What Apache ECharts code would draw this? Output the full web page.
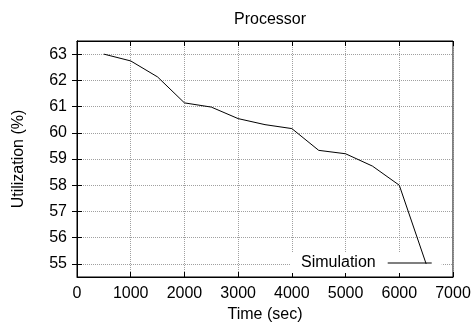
<!DOCTYPE html>
<html>
<head>
<meta charset="utf-8">
<script src="https://cdn.jsdelivr.net/npm/echarts@6/dist/echarts.min.js"></script>
<style>html,body{margin:0;padding:0;background:#fff;}#c{width:476px;height:329px;}</style>
</head>
<body>
<div id="c"></div>
<script>
var timeSec = [500, 1000, 1500, 2000, 2500, 3000, 3500, 4000, 4500, 5000, 5500, 6000, 6500];
var utilization = [63.0, 62.74, 62.13, 61.14, 60.98, 60.54, 60.31, 60.16, 59.33, 59.20, 58.73, 58.0, 55.0];
var xTicks = [0, 1000, 2000, 3000, 4000, 5000, 6000, 7000];
var yTicks = [55, 56, 57, 58, 59, 60, 61, 62, 63];

var FONT = 'Liberation Sans';
var chart = echarts.init(document.getElementById('c'));
var gridLine = {show: true, lineStyle: {color: '#a0a0a0', type: [1, 1], width: 1}};
function tick(vals) { return {show: true, inside: true, length: 5, customValues: vals, lineStyle: {color: '#000'}}; }
chart.setOption({
  animation: false,
  backgroundColor: '#fff',
  title: {text: 'Processor', left: 265, top: 7, textAlign: 'center',
    textStyle: {fontFamily: FONT, fontSize: 16, fontWeight: 'normal', color: '#000'}},
  grid: {left: 77, right: 23, top: 41, bottom: 52, show: true, borderColor: '#000', borderWidth: 1, containLabel: false},
  legend: {
    data: ['Simulation'], left: 290, top: 253, align: 'right', orient: 'horizontal', z: 1,
    itemWidth: 44, itemHeight: 16, padding: [2, 10, 2, 11], backgroundColor: '#fff',
    icon: 'path://M0,8 L44,8 L44,9 L0,9 Z',
    itemStyle: {color: '#000'},
    textStyle: {fontFamily: FONT, fontSize: 16, color: '#000', padding: [0, 7, 0, 0]}
  },
  xAxis: [{
    type: 'value', min: 0, max: 7000, position: 'bottom',
    name: 'Time (sec)', nameLocation: 'middle', nameGap: 30,
    nameTextStyle: {fontFamily: FONT, fontSize: 16, color: '#000'},
    axisLine: {show: true, lineStyle: {color: '#000'}},
    axisTick: tick(xTicks),
    axisLabel: {customValues: xTicks, margin: 9, fontFamily: FONT, fontSize: 16, color: '#000',
      formatter: function (v) { return String(v); }},
    splitLine: gridLine
  }, {
    type: 'value', min: 0, max: 7000, position: 'top',
    axisLine: {show: true, lineStyle: {color: '#000'}},
    axisTick: tick(xTicks), axisLabel: {show: false}, splitLine: {show: false}
  }],
  yAxis: [{
    type: 'value', min: 54.5, max: 63.5, position: 'left',
    name: 'Utilization (%)', nameLocation: 'middle', nameGap: 50, nameRotate: 90,
    nameTextStyle: {fontFamily: FONT, fontSize: 16, color: '#000'},
    axisLine: {show: true, lineStyle: {color: '#000'}},
    axisTick: tick(yTicks),
    axisLabel: {customValues: yTicks, margin: 10, fontFamily: FONT, fontSize: 16, color: '#000',
      formatter: function (v) { return String(v); }},
    splitLine: gridLine
  }, {
    type: 'value', min: 54.5, max: 63.5, position: 'right',
    axisLine: {show: true, lineStyle: {color: '#000'}},
    axisTick: tick(yTicks), axisLabel: {show: false}, splitLine: {show: false}
  }],
  series: [{
    name: 'Simulation', type: 'line', xAxisIndex: 0, yAxisIndex: 0, z: 3,
    data: timeSec.map(function (t, i) { return [t, utilization[i]]; }),
    showSymbol: false, symbol: 'none',
    lineStyle: {color: '#000', width: 1}, itemStyle: {color: '#000'}
  }]
});
</script>
</body>
</html>
